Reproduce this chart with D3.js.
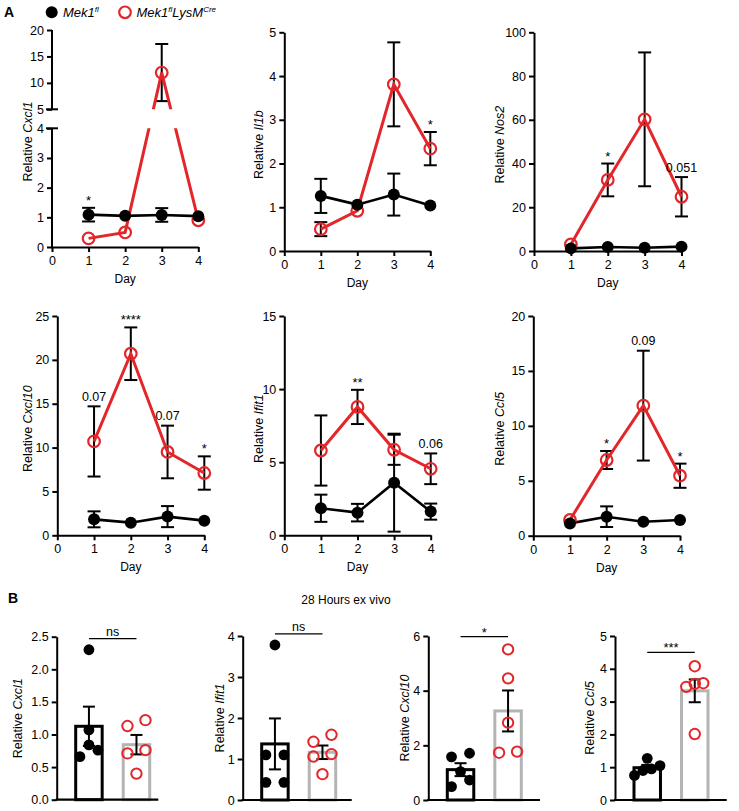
<!DOCTYPE html>
<html><head><meta charset="utf-8">
<script src="https://cdn.jsdelivr.net/npm/d3@7"></script>
<style>body{margin:0;background:#fff} svg{display:block}</style>
</head><body><svg id="c" width="739" height="811"></svg>
<script>
// ---------- DATA ----------
const days = [1, 2, 3, 4];
const dayTicks = [0, 1, 2, 3, 4];

// Panel A (mean, SEM per day; 0 = bar hidden by symbol)
const cxcl1Fl = [1.09, 1.05, 1.08, 1.04];
const cxcl1FlSem = [0.23, 0, 0.23, 0];
const cxcl1Cre = [0.29, 0.49, 11.95, 0.9];
const cxcl1CreSem = [0, 0, 5.4, 0];
const cxcl1Sig = ["*", "", "", ""];
const cxcl1TicksLow = [0, 1, 2, 3, 4];
const cxcl1TicksHigh = [5, 10, 15, 20];

const il1bFl = [1.26, 1.06, 1.29, 1.04];
const il1bFlSem = [0.39, 0, 0.48, 0];
const il1bCre = [0.5, 0.92, 3.81, 2.34];
const il1bCreSem = [0.16, 0, 0.96, 0.38];
const il1bSig = ["", "", "", "*"];
const il1bTicks = [0, 1, 2, 3, 4, 5];

const nos2Fl = [1.2, 1.8, 1.5, 2.0];
const nos2FlSem = [0, 0, 0, 0];
const nos2Cre = [3.0, 32.5, 60.2, 24.8];
const nos2CreSem = [0, 7.5, 30.6, 9.0];
const nos2Sig = ["", "*", "", "0.051"];
const nos2Ticks = [0, 20, 40, 60, 80, 100];

const cxcl10Fl = [1.82, 1.44, 2.13, 1.67];
const cxcl10FlSem = [0.91, 0, 1.2, 0];
const cxcl10Cre = [10.7, 20.7, 9.5, 7.1];
const cxcl10CreSem = [4.0, 3.0, 3.0, 1.9];
const cxcl10Sig = ["0.07", "****", "0.07", "*"];
const cxcl10Ticks = [0, 5, 10, 15, 20, 25];

const ifit1Fl = [1.85, 1.55, 3.6, 1.62];
const ifit1FlSem = [0.93, 0.6, 3.35, 0.55];
const ifit1Cre = [5.8, 8.78, 5.85, 4.55];
const ifit1CreSem = [2.4, 1.17, 1.03, 1.05];
const ifit1Sig = ["", "**", "", "0.06"];
const ifit1Ticks = [0, 5, 10, 15];

const ccl5Fl = [1.12, 1.73, 1.27, 1.43];
const ccl5FlSem = [0, 0.94, 0, 0];
const ccl5Cre = [1.43, 6.89, 11.84, 5.46];
const ccl5CreSem = [0, 0.82, 5.0, 1.1];
const ccl5Sig = ["", "*", "0.09", "*"];
const ccl5Ticks = [0, 5, 10, 15, 20];

// Panel B (individual animals)
const groupsB = ["fl", "cre"];
const bCxcl1Fl = [2.30, 1.07, 0.84, 0.76, 0.66];
const bCxcl1Cre = [1.22, 1.13, 0.76, 0.71, 0.40];
const bIfit1Fl = [3.78, 1.10, 1.10, 0.43, 0.43];
const bIfit1Cre = [1.59, 1.42, 1.12, 1.06, 0.63];
const bCxcl10Fl = [1.71, 1.58, 1.04, 0.73, 0.49];
const bCxcl10Cre = [5.51, 4.45, 2.83, 1.77, 1.73];
const bCcl5Fl = [1.27, 1.05, 0.95, 0.90, 0.75];
const bCcl5Cre = [4.08, 3.56, 3.54, 3.45, 2.01];
const bSig = ["ns", "ns", "*", "***"];
const bCxcl1Ticks = [0, 0.5, 1, 1.5, 2, 2.5];
const bIfit1Ticks = [0, 1, 2, 3, 4];
const bCxcl10Ticks = [0, 2, 4, 6];
const bCcl5Ticks = [0, 1, 2, 3, 4, 5];

// ---------- STYLE ----------
const FONT = "'Liberation Sans', Arial, Helvetica, sans-serif";
const RED = "#e3262a";
const GRAY = "#b4b4b4";
const fmtInt = d3.format("d");
const svg = d3.select("#c").attr("font-family", FONT);

function styleAxis(g, fs) {
  g.attr("font-family", FONT).attr("font-size", fs);
  g.selectAll("path.domain").attr("stroke", "#000").attr("stroke-width", 2);
  g.selectAll(".tick line").attr("stroke", "#000").attr("stroke-width", 2);
  g.selectAll(".tick text").attr("fill", "#000");
}
function yTitle(g, x, y, gene, fs) {
  const t = g.append("text").attr("transform", `translate(${x},${y}) rotate(-90)`)
    .attr("text-anchor", "middle").attr("dy", "0.35em").attr("font-size", fs).attr("fill", "#000");
  t.append("tspan").text("Relative ");
  t.append("tspan").attr("font-style", "italic").text(gene);
}
const isStars = s => /^\*+$/.test(s);

// ---------- PANEL A ----------
const panelsA = [
  {gene: "Cxcl1", fl: cxcl1Fl, flSem: cxcl1FlSem, cre: cxcl1Cre, creSem: cxcl1CreSem, sig: cxcl1Sig,
   x0: 52, x4: 198.3, broken: true,
   y: d3.scaleLinear().domain([0, 4, 5, 20]).range([247, 128.3, 109.3, 30]), titleX: 27.3},
  {gene: "Il1b", fl: il1bFl, flSem: il1bFlSem, cre: il1bCre, creSem: il1bCreSem, sig: il1bSig, ticks: il1bTicks,
   x0: 284.3, x4: 430.3, y: d3.scaleLinear().domain([0, 5]).range([251, 32.3]), titleX: 258.3},
  {gene: "Nos2", fl: nos2Fl, flSem: nos2FlSem, cre: nos2Cre, creSem: nos2CreSem, sig: nos2Sig, ticks: nos2Ticks,
   x0: 534, x4: 681.5, y: d3.scaleLinear().domain([0, 100]).range([251, 32.3]), titleX: 499.3},
  {gene: "Cxcl10", fl: cxcl10Fl, flSem: cxcl10FlSem, cre: cxcl10Cre, creSem: cxcl10CreSem, sig: cxcl10Sig, ticks: cxcl10Ticks,
   x0: 57.3, x4: 204.3, y: d3.scaleLinear().domain([0, 25]).range([535.3, 316]), titleX: 27.3},
  {gene: "Ifit1", fl: ifit1Fl, flSem: ifit1FlSem, cre: ifit1Cre, creSem: ifit1CreSem, sig: ifit1Sig, ticks: ifit1Ticks,
   x0: 284.3, x4: 430.7, y: d3.scaleLinear().domain([0, 15]).range([535.3, 316]), titleX: 258.3},
  {gene: "Ccl5", fl: ccl5Fl, flSem: ccl5FlSem, cre: ccl5Cre, creSem: ccl5CreSem, sig: ccl5Sig, ticks: ccl5Ticks,
   x0: 533.3, x4: 680, y: d3.scaleLinear().domain([0, 20]).range([535.7, 316]), titleX: 499.3},
];

const defs = svg.append("defs");

panelsA.forEach((p, pi) => {
  const g = svg.append("g");
  const x = d3.scaleLinear().domain([0, 4]).range([p.x0, p.x4]);
  const y = p.y;
  const yR = y.range();
  const y0 = yR[0], yTop = yR[yR.length - 1];

  // error bars (black for both series)
  const eb = g.append("g").attr("stroke", "#000").attr("stroke-width", 2).attr("fill", "none");
  [[p.cre, p.creSem], [p.fl, p.flSem]].forEach(([m, s]) => {
    days.forEach((d, i) => {
      if (!s[i]) return;
      const t = y(m[i] + s[i]), b = y(Math.max(0, m[i] - s[i]));
      eb.append("line").attr("x1", x(d)).attr("x2", x(d)).attr("y1", t).attr("y2", b);
      [t, b].forEach(v => eb.append("line").attr("x1", x(d) - 6.5).attr("x2", x(d) + 6.5).attr("y1", v).attr("y2", v));
    });
  });

  // lines
  const line = d3.line().x((v, i) => x(days[i])).y(v => y(v));
  const lg = g.append("g");
  if (p.broken) {
    const id = "clip" + pi;
    const cp = defs.append("clipPath").attr("id", id);
    cp.append("rect").attr("x", 0).attr("y", 0).attr("width", 739).attr("height", y(5));
    cp.append("rect").attr("x", 0).attr("y", y(4)).attr("width", 739).attr("height", 811 - y(4));
    lg.attr("clip-path", `url(#${id})`);
  }
  lg.append("path").datum(p.fl).attr("d", line).attr("fill", "none").attr("stroke", "#000").attr("stroke-width", 2.6);
  lg.append("path").datum(p.cre).attr("d", line).attr("fill", "none").attr("stroke", RED).attr("stroke-width", 3);

  // symbols
  g.append("g").selectAll("circle").data(p.cre).join("circle")
    .attr("cx", (v, i) => x(days[i])).attr("cy", v => y(v)).attr("r", 5.8)
    .attr("fill", "none").attr("stroke", RED).attr("stroke-width", 2.2);
  g.append("g").selectAll("circle").data(p.fl).join("circle")
    .attr("cx", (v, i) => x(days[i])).attr("cy", v => y(v)).attr("r", 6).attr("fill", "#000");

  // significance labels
  p.sig.forEach((lab, i) => {
    if (!lab) return;
    const top = Math.min(y(p.fl[i] + (p.flSem[i] || 0)), y(p.cre[i] + (p.creSem[i] || 0)));
    const st = isStars(lab);
    g.append("text").attr("x", x(days[i])).attr("y", top - (st ? 3 : 5.5))
      .attr("text-anchor", "middle").attr("font-size", st ? 13 : 12.5).attr("fill", "#000").text(lab);
  });

  // x axis
  const gx = g.append("g").attr("transform", `translate(0,${y0})`)
    .call(d3.axisBottom(x).tickValues(dayTicks).tickFormat(fmtInt).tickSize(5).tickSizeOuter(0).tickPadding(4));
  styleAxis(gx, 12.5);
  g.append("text").attr("x", (p.x0 + p.x4) / 2).attr("y", y0 + 36).attr("text-anchor", "middle")
    .attr("font-size", 12).attr("fill", "#000").text("Day");

  // y axis
  if (p.broken) {
    const gy = g.append("g").attr("transform", `translate(${p.x0},0)`)
      .call(d3.axisLeft(y).tickValues(cxcl1TicksLow.concat(cxcl1TicksHigh)).tickFormat(fmtInt).tickSize(5).tickPadding(3));
    gy.select("path.domain").remove();
    styleAxis(gy, 12.5);
    const ax = g.append("g").attr("stroke", "#000").attr("stroke-width", 2);
    ax.append("line").attr("x1", p.x0).attr("x2", p.x0).attr("y1", y(0)).attr("y2", y(4));
    ax.append("line").attr("x1", p.x0).attr("x2", p.x0).attr("y1", y(5)).attr("y2", y(20));
    [4, 5].forEach(v => ax.append("line").attr("x1", p.x0 - 6).attr("x2", p.x0 + 6).attr("y1", y(v)).attr("y2", y(v)));
  } else {
    const gy = g.append("g").attr("transform", `translate(${p.x0},0)`)
      .call(d3.axisLeft(y).tickValues(p.ticks).tickFormat(fmtInt).tickSize(5).tickSizeOuter(0).tickPadding(3));
    styleAxis(gy, 12.5);
  }
  yTitle(g, p.titleX, (y0 + yTop) / 2 + 3, p.gene, 12.5);
});

// ---------- LEGEND & LABELS ----------
svg.append("text").attr("x", 4).attr("y", 17).attr("font-size", 14).attr("font-weight", "bold").attr("fill", "#000").text("A");
svg.append("text").attr("x", 8).attr("y", 603).attr("font-size", 14).attr("font-weight", "bold").attr("fill", "#000").text("B");
const leg = svg.append("g").attr("font-size", 13).attr("fill", "#000");
leg.append("circle").attr("cx", 51.7).attr("cy", 12.3).attr("r", 6).attr("fill", "#000");
const t1 = leg.append("text").attr("x", 63).attr("y", 17).attr("font-style", "italic");
t1.append("tspan").text("Mek1");
t1.append("tspan").attr("dy", -5).attr("font-size", 8).text("fl");
leg.append("circle").attr("cx", 125).attr("cy", 12.3).attr("r", 5.8).attr("fill", "none").attr("stroke", RED).attr("stroke-width", 2.2);
const t2 = leg.append("text").attr("x", 136.5).attr("y", 17).attr("font-style", "italic");
t2.append("tspan").text("Mek1");
t2.append("tspan").attr("dy", -5).attr("font-size", 8).text("fl");
t2.append("tspan").attr("dy", 5).text("LysM");
t2.append("tspan").attr("dy", -5).attr("font-size", 8).text("Cre");
svg.append("text").attr("x", 346).attr("y", 604).attr("text-anchor", "middle").attr("font-size", 12).attr("fill", "#000").text("28 Hours ex vivo");

// ---------- PANEL B ----------
const panelsB = [
  {gene: "Cxcl1", fl: bCxcl1Fl, cre: bCxcl1Cre, ticks: bCxcl1Ticks, fmt: d3.format(".1f"),
   ax: 56.7, xEnd: 158.3, y: d3.scaleLinear().domain([0, 2.5]).range([799.7, 636.7]), titleX: 18, br: 2.47, sig: bSig[0]},
  {gene: "Ifit1", fl: bIfit1Fl, cre: bIfit1Cre, ticks: bIfit1Ticks, fmt: fmtInt,
   ax: 242.7, xEnd: 351.7, y: d3.scaleLinear().domain([0, 4]).range([800, 636]), titleX: 220, br: 4.05, sig: bSig[1]},
  {gene: "Cxcl10", fl: bCxcl10Fl, cre: bCxcl10Cre, ticks: bCxcl10Ticks, fmt: fmtInt,
   ax: 428.3, xEnd: 540, y: d3.scaleLinear().domain([0, 6]).range([800, 636]), titleX: 405, br: 5.98, sig: bSig[2]},
  {gene: "Ccl5", fl: bCcl5Fl, cre: bCcl5Cre, ticks: bCcl5Ticks, fmt: fmtInt,
   ax: 615, xEnd: 726.7, y: d3.scaleLinear().domain([0, 5]).range([800, 636]), titleX: 590, br: 4.5, sig: bSig[3]},
];

function swarm(vals, y, cx) {
  // group into rows of nearby pixel height, spread each row around centre
  const pts = vals.map(v => ({v, py: y(v)})).sort((a, b) => b.py - a.py);
  const rows = [];
  pts.forEach(p => {
    const r = rows[rows.length - 1];
    if (r && Math.abs(r[0].py - p.py) < 10) r.push(p); else rows.push([p]);
  });
  rows.forEach(r => {
    const n = r.length, s = n === 2 ? 18 : 8.5;
    r.forEach((p, i) => { p.px = cx + (i - (n - 1) / 2) * s; });
  });
  return pts;
}

panelsB.forEach(p => {
  const g = svg.append("g");
  const y = p.y;
  const y0 = y.range()[0];
  const band = d3.scaleBand().domain(groupsB).range([p.ax + 17.5, p.ax + 94.5]).paddingInner(0.38);
  const bw = band.bandwidth();
  const sets = [{k: "fl", vals: p.fl, col: "#000"}, {k: "cre", vals: p.cre, col: GRAY}];
  sets.forEach(s => {
    const m = d3.mean(s.vals);
    const sem = d3.deviation(s.vals) / Math.sqrt(s.vals.length);
    const bx = band(s.k);
    g.append("rect").attr("x", bx + 1.5).attr("y", y(m)).attr("width", bw - 3).attr("height", y0 - y(m))
      .attr("fill", "#fff").attr("stroke", s.col).attr("stroke-width", 3);
    const cx = bx + bw / 2;
    const e = g.append("g").attr("stroke", "#000").attr("stroke-width", 2);
    e.append("line").attr("x1", cx).attr("x2", cx).attr("y1", y(m + sem)).attr("y2", y(m - sem));
    [m + sem, m - sem].forEach(v => e.append("line").attr("x1", cx - 6).attr("x2", cx + 6).attr("y1", y(v)).attr("y2", y(v)));
    const pts = swarm(s.vals, y, cx);
    g.append("g").selectAll("circle").data(pts).join("circle")
      .attr("cx", d => d.px).attr("cy", d => d.py)
      .attr("r", s.k === "fl" ? 5.4 : 5.2)
      .attr("fill", s.k === "fl" ? "#000" : "none")
      .attr("stroke", s.k === "fl" ? "none" : RED).attr("stroke-width", 2);
  });
  // bracket
  const c1 = band("fl") + bw / 2, c2 = band("cre") + bw / 2, by = y(p.br);
  g.append("line").attr("x1", c1).attr("x2", c2).attr("y1", by).attr("y2", by).attr("stroke", "#000").attr("stroke-width", 1.3);
  const st = isStars(p.sig);
  g.append("text").attr("x", (c1 + c2) / 2).attr("y", by - (st ? 0 : 2.5)).attr("text-anchor", "middle")
    .attr("font-size", st ? 13 : 12.5).attr("fill", "#000").text(p.sig);
  // axes
  g.append("line").attr("x1", p.ax - 1).attr("x2", p.xEnd).attr("y1", y0).attr("y2", y0).attr("stroke", "#000").attr("stroke-width", 2.2);
  const gy = g.append("g").attr("transform", `translate(${p.ax},0)`)
    .call(d3.axisLeft(y).tickValues(p.ticks).tickFormat(p.fmt).tickSize(5).tickSizeOuter(0).tickPadding(3));
  styleAxis(gy, 12.5);
  yTitle(g, p.titleX, (y0 + y.range()[1]) / 2, p.gene, 12.5);
});
</script></body></html>
